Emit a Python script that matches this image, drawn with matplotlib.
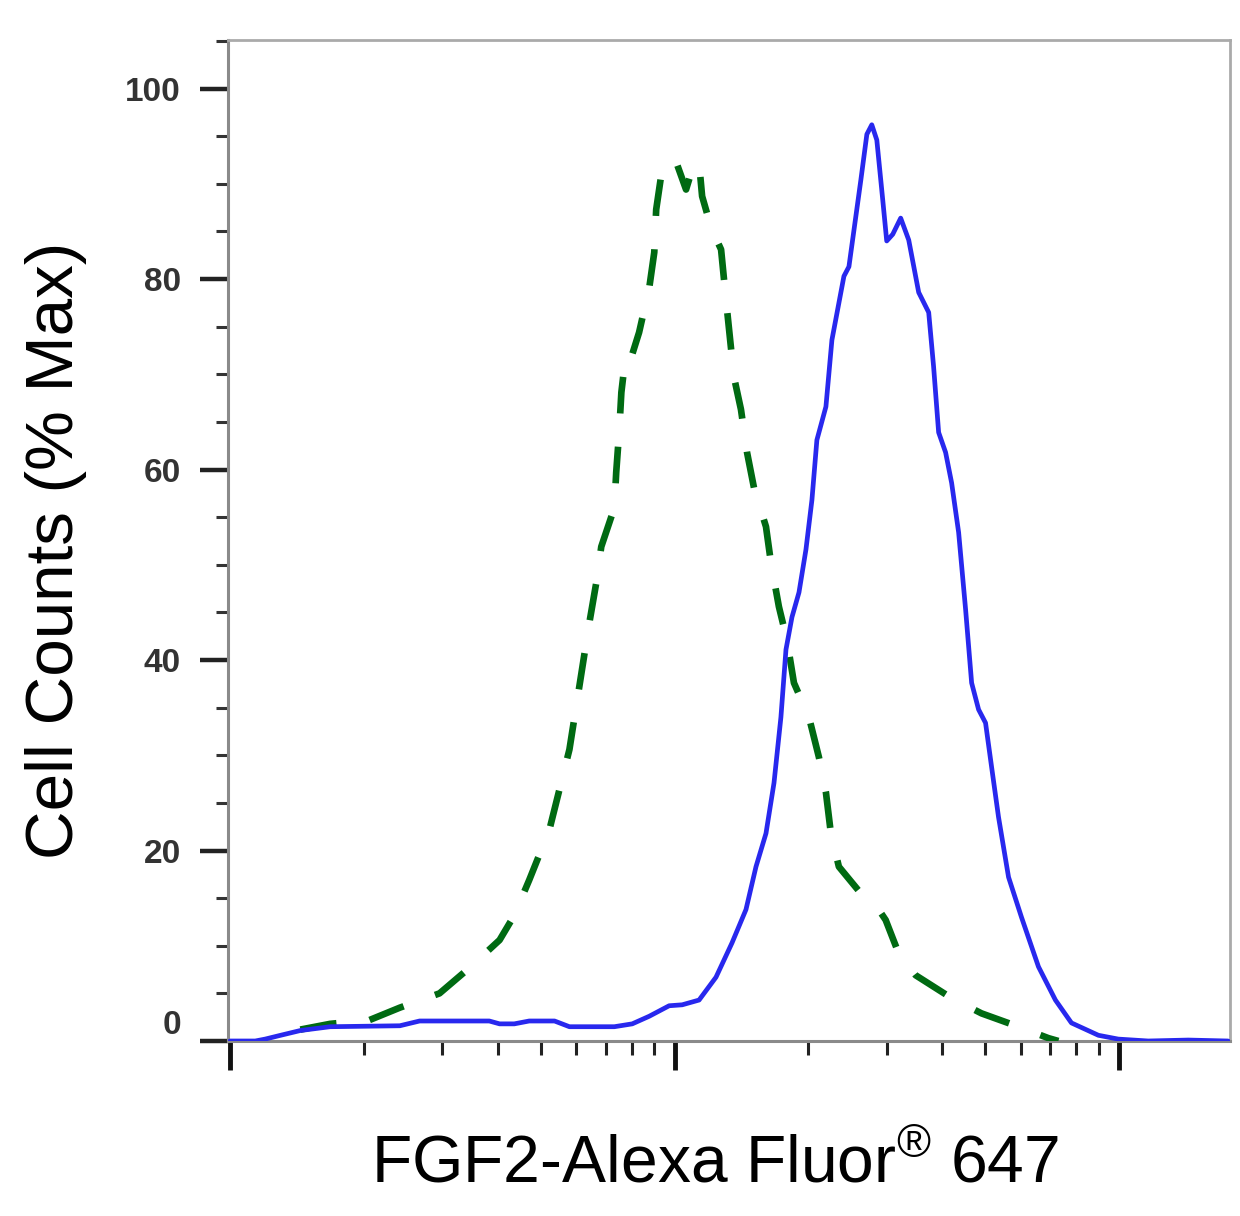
import numpy as np
import matplotlib
matplotlib.use("Agg")
import matplotlib.pyplot as plt
from matplotlib.ticker import FixedLocator, NullFormatter

plt.rcParams['font.family'] = ['Liberation Sans', 'DejaVu Sans']
plt.rcParams['mathtext.fontset'] = 'custom'
plt.rcParams['mathtext.rm'] = 'Liberation Sans'

# stained sample (solid blue)
stained_x = [100, 114, 120, 130, 144, 168, 241, 267, 383, 404, 436, 471, 537, 580,
             732, 803, 877, 972, 1040, 1135, 1239, 1346, 1447, 1524, 1605, 1673,
             1734, 1780, 1836, 1904, 1974, 2036, 2089, 2189, 2258, 2403, 2466, 2623,
             2706, 2776, 2849, 2938, 2999, 3094, 3224, 3361, 3539, 3727, 3823, 3924,
             4068, 4197, 4352, 4512, 4655, 4826, 5003, 5161, 5351, 5636, 6026, 6580,
             7184, 7805, 8975, 9949, 11617, 14290, 17570]
stained_y = [0, 0, 0.2, 0.6, 1.1, 1.5, 1.6, 2.1, 2.1, 1.8, 1.8, 2.1, 2.1, 1.5,
             1.5, 1.8, 2.6, 3.7, 3.8, 4.3, 6.7, 10.3, 13.8, 18.3, 21.8, 27.1,
             34.0, 41.1, 44.5, 47.1, 51.6, 56.8, 63.1, 66.6, 73.6, 80.3, 81.3, 90.4,
             95.2, 96.2, 94.6, 88.3, 84.0, 84.7, 86.4, 84.1, 78.6, 76.5, 70.8, 63.9,
             61.8, 58.6, 53.4, 45.3, 37.6, 34.8, 33.4, 28.8, 23.5, 17.2, 13.0, 7.8,
             4.3, 1.9, 0.6, 0.2, 0, 0.1, 0]

# isotype control (dashed green)
control_x = [144, 168, 206, 241, 296, 346, 404, 436, 471, 523, 580, 643, 667, 684,
             732, 739, 751, 759, 778, 803, 832, 877, 900, 909, 937, 972, 1008, 1061,
             1095, 1135, 1153, 1208, 1272, 1305, 1360, 1410, 1455, 1508, 1605, 1647,
             1716, 1789, 1855, 2005, 2111, 2189, 2246, 2341, 2623, 2877, 2983, 3190,
             3484, 4197, 4900, 5934, 6929, 7296]
control_y = [1.2, 1.8, 2.2, 3.5, 5.0, 7.7, 10.6, 13.2, 16.9, 22.2, 30.6, 43.9, 48.2, 51.9,
             56.0, 59.7, 64.2, 68.1, 72.4, 72.1, 74.4, 79.1, 82.8, 87.3, 91.5, 92.5, 92.3, 89.4,
             91.5, 92.2, 88.7, 85.4, 83.1, 77.8, 69.7, 66.3, 61.8, 58.1, 54.0, 50.2,
             45.6, 42.1, 37.6, 34.0, 29.8, 26.1, 21.8, 18.3, 15.5, 13.8, 12.7, 9.2,
             6.9, 4.5, 2.9, 1.5, 0.3, 0]

y_major = [0, 20, 40, 60, 80, 100]
y_minor = list(range(5, 106, 5))
x_major = [100, 1000, 10000]
x_minor = [m * d for d in (100, 1000) for m in range(2, 10)]

fig = plt.figure(figsize=(12.4, 12.16), dpi=100)
ax = fig.add_axes([228 / 1240, 1 - 1041 / 1216, 1002 / 1240, 1001 / 1216])

ax.plot(control_x, control_y, color='#006a12', lw=4.8, ls=(0, (5.5, 5)),
        dash_capstyle='butt', dash_joinstyle='round', zorder=3)
ax.plot(stained_x, stained_y, color='#2828ee', lw=3.4, solid_joinstyle='round',
        solid_capstyle='round', zorder=4)

ax.set_xscale('log')
ax.set_xlim(99, 17740)
ax.set_ylim(0, 105.1)

ax.xaxis.set_major_locator(FixedLocator(x_major))
ax.xaxis.set_minor_locator(FixedLocator(x_minor))
ax.xaxis.set_major_formatter(NullFormatter())
ax.xaxis.set_minor_formatter(NullFormatter())
ax.yaxis.set_major_locator(FixedLocator(y_major))
ax.yaxis.set_minor_locator(FixedLocator(y_minor))

ax.tick_params(axis='x', which='major', direction='out', length=21, width=3.5, color='#111')
ax.tick_params(axis='x', which='minor', direction='out', length=10, width=2.2, color='#222')
ax.tick_params(axis='y', which='major', direction='out', length=20, width=3.2, color='#222',
               labelsize=24, labelcolor='#333', pad=14)
ax.tick_params(axis='y', which='minor', direction='out', length=9, width=2.2, color='#333')

for lab in ax.get_yticklabels():
    lab.set_fontweight('bold')
ax.yaxis.get_major_ticks()[0].label1.set_verticalalignment('bottom')

for side in ('left', 'bottom'):
    ax.spines[side].set_color('#8a8a8a')
    ax.spines[side].set_linewidth(2.2)
for side in ('top', 'right'):
    ax.spines[side].set_color('#aaaaaa')
    ax.spines[side].set_linewidth(2.0)

fig.text(56 / 1240, 1 - 550 / 1216, 'Cell Counts (% Max)', rotation=90,
         ha='center', va='center', fontsize=48.5, color='black')
fig.text(715 / 1240, 1 - 1165 / 1216, 'FGF2-Alexa Fluor$^{®}$ 647',
         ha='center', va='center', fontsize=47.5, color='black')

fig.savefig('out.png', dpi=100, facecolor='white')
